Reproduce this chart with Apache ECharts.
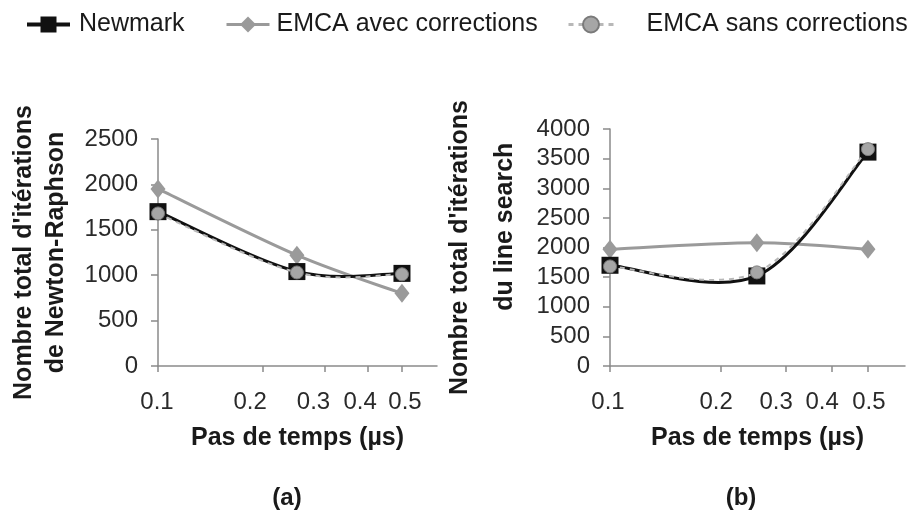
<!DOCTYPE html>
<html>
<head>
<meta charset="utf-8">
<script src="https://cdn.jsdelivr.net/npm/echarts@6/dist/echarts.min.js"></script>
<style>
  html, body { margin: 0; padding: 0; background: #fff; }
  #chart { width: 917px; height: 513px; }
</style>
</head>
<body>
<div id="chart"></div>
<script>
// Time steps (µs), plotted on a logarithmic axis
const timeSteps = [0.1, 0.25, 0.5];
const xTickValues = [0.1, 0.2, 0.3, 0.4, 0.5];

// (a) Total Newton-Raphson iterations
const newmarkNR = [1700, 1040, 1020];
const emcaAvecNR = [1950, 1220, 800];
const emcaSansNR = [1680, 1030, 1010];

// (b) Total line-search iterations
const newmarkLS = [1700, 1520, 3610];
const emcaAvecLS = [1970, 2080, 1970];
const emcaSansLS = [1680, 1580, 3660];

const seriesNames = ['Newmark', 'EMCA avec corrections', 'EMCA sans corrections'];

const FONT = '"Liberation Sans", Arial, Helvetica, sans-serif';
const AXIS_GRAY = '#8a8a8a';

const STYLES = {
  newmark: { color: '#111111', width: 3, dash: null },
  avec: { color: '#9a9a9a', width: 3, dash: null },
  sans: { color: '#b8b8b8', width: 2, dash: [5, 5] }
};

// Horizontal nudges (px) of the x tick labels, one per tick
const xLabelShiftA = [-1, -13, -11, -8, 3];
const xLabelShiftB = [-2, -5, -10, -10, 1];

const pairs = (ys) => timeSteps.map((x, i) => [x, ys[i]]);

// Catmull-Rom spline through the projected points, drawn as cubic Béziers
function smoothPath(pts) {
  let d = 'M' + pts[0][0] + ' ' + pts[0][1];
  for (let i = 0; i < pts.length - 1; i++) {
    const p0 = pts[Math.max(i - 1, 0)];
    const p1 = pts[i];
    const p2 = pts[i + 1];
    const p3 = pts[Math.min(i + 2, pts.length - 1)];
    const c1x = p1[0] + (p2[0] - p0[0]) / 6;
    const c1y = p1[1] + (p2[1] - p0[1]) / 6;
    const c2x = p2[0] - (p3[0] - p1[0]) / 6;
    const c2y = p2[1] - (p3[1] - p1[1]) / 6;
    d += ' C' + c1x + ' ' + c1y + ' ' + c2x + ' ' + c2y + ' ' + p2[0] + ' ' + p2[1];
  }
  return d;
}

function curveSeries(gridIndex, ys, style, z) {
  const data = pairs(ys);
  return {
    type: 'custom',
    name: 'curve',
    xAxisIndex: gridIndex,
    yAxisIndex: gridIndex,
    z,
    silent: true,
    data,
    encode: { x: 0, y: 1 },
    renderItem: (params, api) => {
      if (params.dataIndex !== 0) return null;
      const pts = data.map((d) => api.coord(d));
      return {
        type: 'path',
        shape: { pathData: smoothPath(pts) },
        style: {
          fill: 'none',
          stroke: style.color,
          lineWidth: style.width,
          lineDash: style.dash,
          lineCap: 'butt',
          lineJoin: 'round'
        }
      };
    }
  };
}

function markerSeries(gridIndex, name, ys, z, marker) {
  return Object.assign({
    name,
    type: 'line',
    xAxisIndex: gridIndex,
    yAxisIndex: gridIndex,
    data: pairs(ys),
    z,
    showAllSymbol: true,
    lineStyle: { opacity: 0 }
  }, marker);
}

function seriesFor(gridIndex, nm, avec, sans) {
  return [
    curveSeries(gridIndex, avec, STYLES.avec, 2),
    markerSeries(gridIndex, seriesNames[1], avec, 3, {
      symbol: 'diamond', symbolSize: [15, 19],
      itemStyle: { color: '#9a9a9a' }
    }),
    curveSeries(gridIndex, nm, STYLES.newmark, 4),
    markerSeries(gridIndex, seriesNames[0], nm, 5, {
      symbol: 'rect', symbolSize: 17,
      itemStyle: { color: '#111111' }
    }),
    curveSeries(gridIndex, sans, STYLES.sans, 6),
    markerSeries(gridIndex, seriesNames[2], sans, 7, {
      symbol: 'circle', symbolSize: 13,
      itemStyle: { color: '#a6a6a6', borderColor: '#7a7a7a', borderWidth: 1 }
    })
  ];
}

function xAxisFor(gridIndex, shifts) {
  const rich = {};
  shifts.forEach((s, i) => {
    rich['t' + i] = {
      fontFamily: FONT, fontSize: 24, color: '#2a2a2a',
      padding: s < 0 ? [0, -2 * s, 0, 0] : [0, 0, 0, 2 * s]
    };
  });
  return {
    type: 'log',
    gridIndex,
    min: 0.1,
    max: 0.63,
    logBase: 10,
    name: 'Pas de temps (µs)',
    nameLocation: 'middle',
    nameGap: 60,
    nameTextStyle: { fontFamily: FONT, fontSize: 25, fontWeight: 'bold', color: '#1a1a1a' },
    axisLine: { lineStyle: { color: AXIS_GRAY, width: 1.5 } },
    axisTick: { show: true, length: 6, lineStyle: { color: AXIS_GRAY, width: 1.5 }, customValues: xTickValues },
    axisLabel: {
      fontFamily: FONT, fontSize: 24, color: '#2a2a2a', margin: 24,
      customValues: xTickValues,
      formatter: (v) => {
        const t = Math.round(v * 10) / 10;
        const i = xTickValues.indexOf(t);
        return '{t' + i + '|' + t.toFixed(1) + '}';
      },
      rich
    },
    splitLine: { show: false },
    minorTick: { show: false }
  };
}

function yAxisFor(gridIndex, max, name, lineHeight, gap) {
  return {
    type: 'value',
    gridIndex,
    min: 0,
    max,
    interval: 500,
    name,
    nameLocation: 'middle',
    nameGap: gap,
    nameTextStyle: {
      fontFamily: FONT, fontSize: 25, fontWeight: 'bold', color: '#1a1a1a',
      lineHeight, align: 'center'
    },
    axisLine: { show: true, lineStyle: { color: AXIS_GRAY, width: 1.5 } },
    axisTick: { show: true, length: 7, lineStyle: { color: AXIS_GRAY, width: 1.5 } },
    axisLabel: {
      fontFamily: FONT, fontSize: 24, color: '#2a2a2a', margin: 20,
      formatter: (v) => String(v)
    },
    splitLine: { show: false }
  };
}

function legendFor(name, left, padLeft, itemWidth, style, lineWidth) {
  return {
    data: [name],
    left,
    top: 12,
    padding: 0,
    itemWidth,
    itemHeight: 20,
    lineStyle: {
      color: style.color, width: lineWidth, opacity: 1,
      type: style.dash ? style.dash : 'solid'
    },
    textStyle: { fontFamily: FONT, fontSize: 25, color: '#1a1a1a', padding: [0, 0, 0, padLeft] }
  };
}

const chart = echarts.init(document.getElementById('chart'), null, { renderer: 'canvas' });

chart.setOption({
  animation: false,
  backgroundColor: '#ffffff',
  legend: [
    legendFor(seriesNames[0], 25, 4, 43, STYLES.newmark, 4),
    legendFor(seriesNames[1], 225, 2, 43, STYLES.avec, 3),
    legendFor(seriesNames[2], 567, 28, 45, STYLES.sans, 3)
  ],
  grid: [
    { left: 158, top: 139, width: 279, height: 227, outerBoundsMode: 'none' },
    { left: 610, top: 129, width: 295, height: 237, outerBoundsMode: 'none' }
  ],
  xAxis: [xAxisFor(0, xLabelShiftA), xAxisFor(1, xLabelShiftB)],
  yAxis: [
    yAxisFor(0, 2500, "Nombre total d'itérations\nde Newton-Raphson", 32, 86),
    yAxisFor(1, 4000, "Nombre total d'itérations\n      du line search", 45, 82)
  ],
  series: [
    ...seriesFor(0, newmarkNR, emcaAvecNR, emcaSansNR),
    ...seriesFor(1, newmarkLS, emcaAvecLS, emcaSansLS)
  ],
  graphic: [
    { type: 'text', x: 287, y: 498, style: { text: '(a)', align: 'center', verticalAlign: 'middle', font: 'bold 24px ' + FONT, fill: '#1a1a1a' } },
    { type: 'text', x: 741, y: 498, style: { text: '(b)', align: 'center', verticalAlign: 'middle', font: 'bold 24px ' + FONT, fill: '#1a1a1a' } }
  ]
});
</script>
</body>
</html>
